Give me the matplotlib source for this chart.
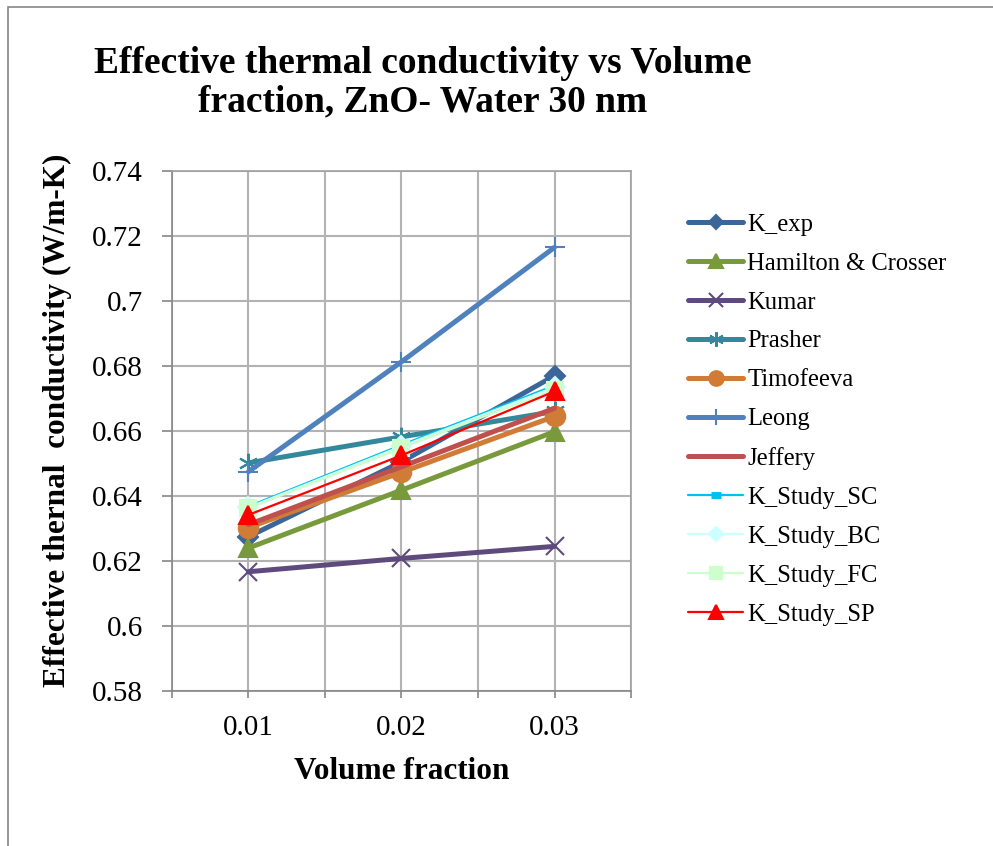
import matplotlib
matplotlib.use("Agg")
import matplotlib.pyplot as plt
from matplotlib.patches import Rectangle

plt.rcParams['font.family'] = ['Liberation Serif', 'DejaVu Serif']

# volume fraction
Fractions = [0.01, 0.02, 0.03]

# effective thermal conductivity (W/m-K)
K_exp = [0.6275, 0.6505, 0.677]
Hamilton = [0.624, 0.6418, 0.6598]
Kumar = [0.6167, 0.6208, 0.6245]
Prasher = [0.6502, 0.6582, 0.666]
Timofeeva = [0.6303, 0.6473, 0.6645]
Leong = [0.6475, 0.6813, 0.7165]
Jeffery = [0.6312, 0.649, 0.667]
Study_SC = [0.6368, 0.6557, 0.674]
Study_BC = [0.6365, 0.6553, 0.6735]
Study_FC = [0.6362, 0.6548, 0.6727]
Study_SP = [0.6342, 0.6525, 0.6722]

Names = ["K_exp", "Hamilton & Crosser", "Kumar", "Prasher", "Timofeeva", "Leong",
         "Jeffery", "K_Study_SC", "K_Study_BC", "K_Study_FC", "K_Study_SP"]

# values, color, marker, markersize, linewidth
styles = [
    (K_exp, "#3C6598", "D", 10, 3.6),
    (Hamilton, "#789A3D", "^", 13, 3.6),
    (Kumar, "#5F4A7D", "x", 13, 3.6),
    (Prasher, "#33889B", (6, 2, 0), 14, 3.6),
    (Timofeeva, "#D07B36", "o", 14, 3.6),
    (Leong, "#4F81BD", "+", 15, 3.6),
    (Jeffery, "#C0504D", None, 0, 3.6),
    (Study_SC, "#00C0F0", "_", 9, 1.6),
    (Study_BC, "#CCFFFF", "D", 10, 1.6),
    (Study_FC, "#CCFFCC", "s", 12, 1.6),
    (Study_SP, "#FF0000", "^", 13, 1.6),
]

fig = plt.figure(figsize=(9.93, 8.46), dpi=100)
ax = fig.add_axes([172/993, 1-691/846, 459/993, 520/846])

for name, (vals, col, mk, ms, lw) in zip(Names, styles):
    mew = 1.5
    if mk == "_":
        mew = 5
    ax.plot(Fractions, vals, color=col, marker=mk, markersize=ms, linewidth=lw,
            markeredgewidth=mew, markeredgecolor=col, markerfacecolor=col,
            solid_capstyle='round', label=name)

ax.set_xlim(0.005, 0.035)
ax.set_ylim(0.58, 0.74)
ax.set_xticks(Fractions)
ax.set_xticklabels(["0.01", "0.02", "0.03"])
ax.set_xticks([0.005, 0.015, 0.025, 0.035], minor=True)
ax.set_yticks([0.58 + 0.02*i for i in range(9)])
ax.set_yticklabels(["0.58", "0.6", "0.62", "0.64", "0.66", "0.68", "0.7", "0.72", "0.74"])

ax.grid(True, which='both', color="#B3B3B3", linewidth=1.5)
ax.set_axisbelow(True)
for s in ax.spines.values():
    s.set_color("#A0A0A0")
    s.set_linewidth(1.2)
ax.spines['left'].set_color("#868686")
ax.spines['bottom'].set_color("#868686")
ax.tick_params(axis='y', which='both', direction='out', length=7, width=1.2,
               color="#868686", labelsize=21, pad=14)
ax.tick_params(axis='x', which='both', direction='out', length=5, width=1.2,
               color="#868686", labelsize=21, pad=12)

ax.set_xlabel("Volume fraction", fontsize=22.5, fontweight='bold')
ax.xaxis.set_label_coords(0.5, (691-771)/520)
ax.set_ylabel("Effective thernal  conductivity (W/m-K)", fontsize=22.5,
              fontweight='bold')
ax.yaxis.set_label_coords((57-172)/459, (691-420)/520)
ax.xaxis.label.set_va('center')
ax.yaxis.label.set_va('center')

fig.text(423/993, 1-83/846, "Effective thermal conductivity vs Volume\nfraction, ZnO- Water 30 nm",
         ha='center', va='center', fontsize=27, fontweight='bold', linespacing=1.13)

ax.legend(loc='center left', bbox_to_anchor=(1.076, 0.522), frameon=False,
          fontsize=17.7, handlelength=2.24, handletextpad=0.16, labelspacing=0.68,
          markerscale=0.75)

# outer chart border
fig.patches.append(Rectangle((8/993, -0.1), 1.2, 1-7/846+0.1, transform=fig.transFigure,
                             fill=False, edgecolor="#868686", linewidth=1.2))

fig.savefig("out.png", dpi=100)
